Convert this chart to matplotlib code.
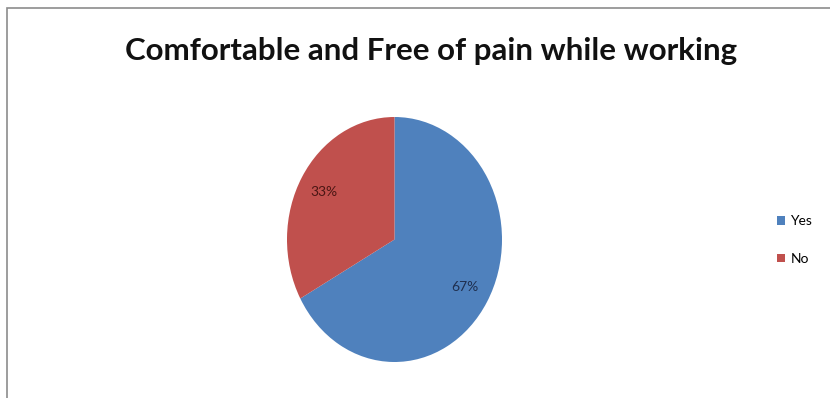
import matplotlib
matplotlib.use("Agg")
import matplotlib.pyplot as plt
from matplotlib.patches import Rectangle

categories = ["Yes", "No"]
values = [67, 33]
colors = ["#4F81BD", "#C0504D"]
title = "Comfortable and Free of pain while working"

fig = plt.figure(figsize=(8.30, 3.98), dpi=100)
fig.patch.set_facecolor("white")

# outer chart frame
fig.add_artist(Rectangle((7/830, -0.01), 1.0, (398-8)/398 + 0.01, transform=fig.transFigure,
                         fill=False, edgecolor="#8c8c8c", linewidth=1.2))

fig.text(431/830, 1 - 51/398, title, ha="center", va="center",
         fontsize=22.5, fontweight="bold", family=["Lato", "DejaVu Sans"], color="#111111")

ax = fig.add_axes([287/830, (398-362)/398, 215/830, 245/398])
wedges, texts, autotexts = ax.pie(values, colors=colors, startangle=90, counterclock=False,
                                  autopct="%1.0f%%", pctdistance=0.76,
                                  textprops=dict(fontsize=10, family=["Lato", "DejaVu Sans"]))
autotexts[0].set_color("#1f2f4f")
autotexts[1].set_color("#4a1614")
ax.set_aspect("auto")
ax.set_xlim(-1, 1)
ax.set_ylim(-1, 1)

leg = fig.legend(wedges, categories, loc="center left", bbox_to_anchor=(764/830, 1 - 240/398),
                 frameon=False, handlelength=0.6, handleheight=0.6,
                 labelspacing=1.85, handletextpad=0.4, prop=dict(family=["Lato", "DejaVu Sans"], size=10))

fig.savefig("out.png", dpi=100)
